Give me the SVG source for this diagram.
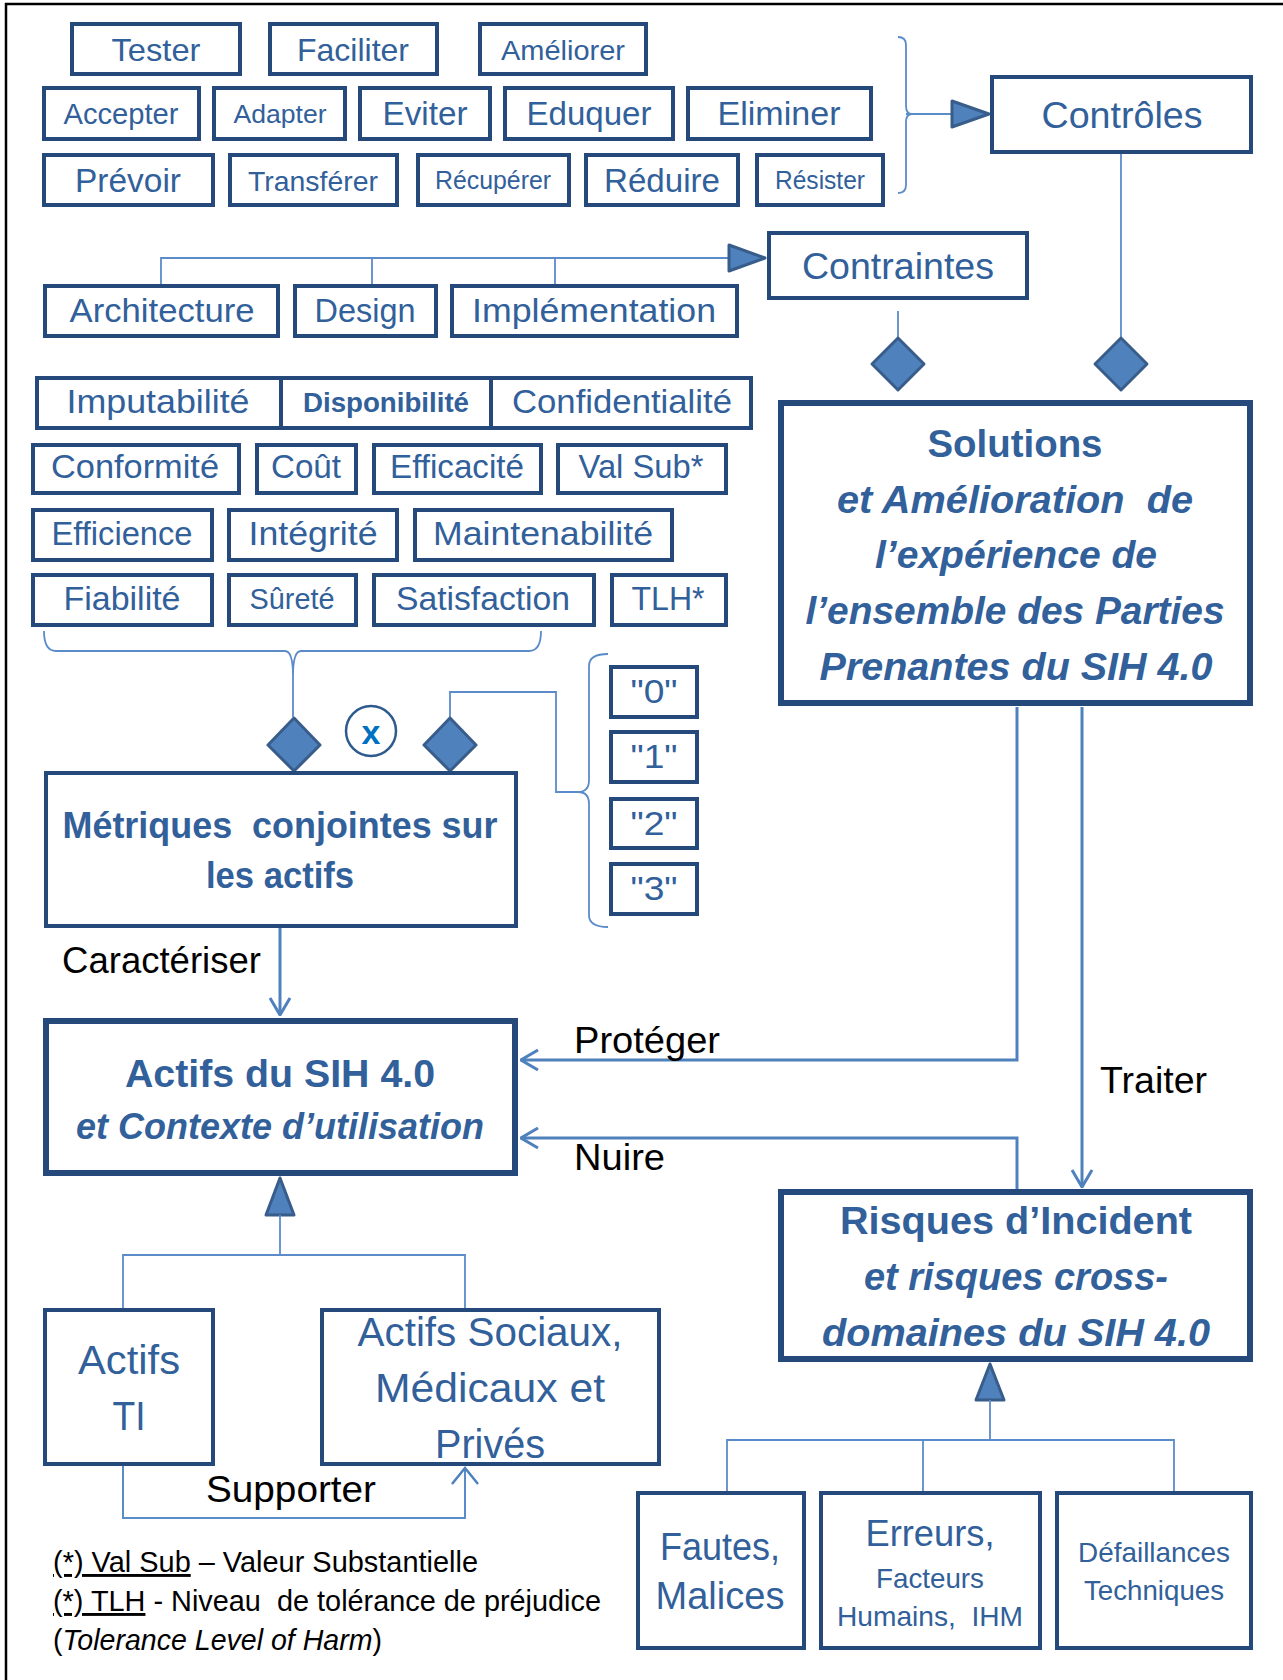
<svg xmlns="http://www.w3.org/2000/svg" width="1283" height="1680" viewBox="0 0 1283 1680">
<defs>
<style>
.b{fill:#fff;stroke:#24497a;stroke-width:4}
.bt{fill:#fff;stroke:#24497a;stroke-width:6}
.t{font-family:'Liberation Sans',Arial,sans-serif;fill:#31609a;text-anchor:middle}
.tb{font-weight:bold}
.ti{font-style:italic}
.k{font-family:'Liberation Sans',Arial,sans-serif;fill:#000}
.ln{fill:none;stroke:#5b8bc9;stroke-width:1.8}
.la{fill:none;stroke:#4f81bd;stroke-width:3}
.dm{fill:#4f81bd;stroke:#385d8a;stroke-width:3;stroke-linejoin:round}
</style>
<marker id="oa" viewBox="0 0 20 24" refX="19" refY="12" markerWidth="20" markerHeight="24" markerUnits="userSpaceOnUse" orient="auto">
<path d="M2,2 L19,12 L2,22" fill="none" stroke="#4f81bd" stroke-width="3"/>
</marker>
</defs>
<rect width="1283" height="1680" fill="#fff"/>
<path d="M6,1680 V4 H1283" fill="none" stroke="#000" stroke-width="2.5"/>

<g id="connectors">
<path class="ln" d="M898,37 Q906,37 906,45 V106 Q906,114 912,114 Q906,114 906,122 V185 Q906,193 898,193"/>
<path class="ln" d="M906,114 H952"/>
<polygon class="dm" points="952,101 989,114 952,127"/>
<path class="ln" d="M161,284 V258 H729 M372,284 V258 M555,284 V258"/>
<polygon class="dm" points="729,245 765,258 729,271"/>
<path class="ln" d="M898,311 V337"/>
<path class="ln" d="M1121,154 V337"/>
<polygon class="dm" points="898,338 924,364 898,390 872,364"/>
<polygon class="dm" points="1121,338 1147,364 1121,390 1095,364"/>
<path class="ln" d="M44,631 Q44,651 56,651 H285 Q293,651 293,676 Q293,651 301,651 H529 Q541,651 541,631"/>
<path class="ln" d="M293,676 V717"/>
<path class="ln" d="M608,654 Q589,654 589,666 V780 Q589,792 578,792 Q589,792 589,804 V915 Q589,927 608,927"/>
<path class="ln" d="M450,717 V692 H556 V792 H578"/>
<polygon class="dm" points="294,718 320,745 294,771 268,745"/>
<polygon class="dm" points="450,718 476,745 450,771 424,745"/>
<circle cx="371" cy="731" r="25" fill="#fff" stroke="#2e5a8e" stroke-width="2.5"/>
<text x="371" y="744" font-family="'Liberation Sans',Arial,sans-serif" font-weight="bold" font-size="34" fill="#0070c0" text-anchor="middle">x</text>
<path class="la" d="M280,928 V1015" marker-end="url(#oa)"/>
<path class="la" d="M1017,707 V1060 H521" marker-end="url(#oa)"/>
<path class="la" d="M1017,1190 V1138 H521" marker-end="url(#oa)"/>
<path class="la" d="M1082,707 V1187" marker-end="url(#oa)"/>
<polygon class="dm" points="280,1178 294,1215 266,1215"/>
<path class="ln" d="M280,1215 V1255 M123,1308 V1255 H465 V1308"/>
<path class="ln" d="M123,1466 V1518 H465 V1470" style="stroke-width:2"/>
<path d="M452,1484 L465,1468 L478,1484" fill="none" stroke="#4f81bd" stroke-width="2.5"/>
<polygon class="dm" points="990,1364 1004,1400 976,1400"/>
<path class="ln" d="M990,1400 V1440 M727,1491 V1440 H1174 V1491 M923,1440 V1491"/>
</g>

<g id="n-tester"><rect class="b" x="72" y="24" width="168" height="50"/><text class="t" x="156" y="61" font-size="32" textLength="89" lengthAdjust="spacingAndGlyphs">Tester</text></g>
<g id="n-faciliter"><rect class="b" x="270" y="24" width="167" height="50"/><text class="t" x="353" y="61" font-size="32" textLength="112" lengthAdjust="spacingAndGlyphs">Faciliter</text></g>
<g id="n-ameliorer"><rect class="b" x="480" y="24" width="166" height="50"/><text class="t" x="563" y="60" font-size="28" textLength="124" lengthAdjust="spacingAndGlyphs">Améliorer</text></g>

<g id="n-accepter"><rect class="b" x="44" y="88" width="155" height="51"/><text class="t" x="121" y="124" font-size="29" textLength="115" lengthAdjust="spacingAndGlyphs">Accepter</text></g>
<g id="n-adapter"><rect class="b" x="214" y="88" width="131" height="51"/><text class="t" x="280" y="123" font-size="26" textLength="93" lengthAdjust="spacingAndGlyphs">Adapter</text></g>
<g id="n-eviter"><rect class="b" x="360" y="88" width="130" height="51"/><text class="t" x="425" y="125" font-size="33" textLength="85" lengthAdjust="spacingAndGlyphs">Eviter</text></g>
<g id="n-eduquer"><rect class="b" x="505" y="88" width="168" height="51"/><text class="t" x="589" y="125" font-size="33" textLength="125" lengthAdjust="spacingAndGlyphs">Eduquer</text></g>
<g id="n-eliminer"><rect class="b" x="688" y="88" width="183" height="51"/><text class="t" x="779" y="125" font-size="33" textLength="123" lengthAdjust="spacingAndGlyphs">Eliminer</text></g>

<g id="n-prevoir"><rect class="b" x="44" y="155" width="169" height="50"/><text class="t" x="128" y="192" font-size="33" textLength="106" lengthAdjust="spacingAndGlyphs">Prévoir</text></g>
<g id="n-transferer"><rect class="b" x="230" y="155" width="167" height="50"/><text class="t" x="313" y="191" font-size="28" textLength="130" lengthAdjust="spacingAndGlyphs">Transférer</text></g>
<g id="n-recuperer"><rect class="b" x="418" y="155" width="151" height="50"/><text class="t" x="493" y="189" font-size="25" textLength="116" lengthAdjust="spacingAndGlyphs">Récupérer</text></g>
<g id="n-reduire"><rect class="b" x="586" y="155" width="152" height="50"/><text class="t" x="662" y="192" font-size="33" textLength="116" lengthAdjust="spacingAndGlyphs">Réduire</text></g>
<g id="n-resister"><rect class="b" x="757" y="155" width="126" height="50"/><text class="t" x="820" y="189" font-size="25" textLength="90" lengthAdjust="spacingAndGlyphs">Résister</text></g>

<g id="n-controles"><rect class="b" x="992" y="77" width="259" height="75"/><text class="t" x="1122" y="128" font-size="37" textLength="161" lengthAdjust="spacingAndGlyphs">Contrôles</text></g>
<g id="n-contraintes"><rect class="b" x="769" y="233" width="258" height="65"/><text class="t" x="898" y="279" font-size="37" textLength="192" lengthAdjust="spacingAndGlyphs">Contraintes</text></g>

<g id="n-architecture"><rect class="b" x="45" y="286" width="233" height="50"/><text class="t" x="162" y="322" font-size="34" textLength="185" lengthAdjust="spacingAndGlyphs">Architecture</text></g>
<g id="n-design"><rect class="b" x="295" y="286" width="141" height="50"/><text class="t" x="365" y="322" font-size="34" textLength="101" lengthAdjust="spacingAndGlyphs">Design</text></g>
<g id="n-implementation"><rect class="b" x="452" y="286" width="285" height="50"/><text class="t" x="594" y="322" font-size="34" textLength="244" lengthAdjust="spacingAndGlyphs">Implémentation</text></g>

<g id="n-imputabilite"><rect class="b" x="37" y="378" width="244" height="50"/><text class="t" x="158" y="413" font-size="34" textLength="183" lengthAdjust="spacingAndGlyphs">Imputabilité</text></g>
<g id="n-disponibilite"><rect class="b" x="281" y="378" width="210" height="50"/><text class="t tb" x="386" y="412" font-size="28" textLength="166" lengthAdjust="spacingAndGlyphs">Disponibilité</text></g>
<g id="n-confidentialite"><rect class="b" x="491" y="378" width="260" height="50"/><text class="t" x="622" y="413" font-size="34" textLength="220" lengthAdjust="spacingAndGlyphs">Confidentialité</text></g>

<g id="n-conformite"><rect class="b" x="33" y="445" width="206" height="48"/><text class="t" x="135" y="478" font-size="34" textLength="168" lengthAdjust="spacingAndGlyphs">Conformité</text></g>
<g id="n-cout"><rect class="b" x="257" y="445" width="99" height="48"/><text class="t" x="306" y="478" font-size="34" textLength="70" lengthAdjust="spacingAndGlyphs">Coût</text></g>
<g id="n-efficacite"><rect class="b" x="374" y="445" width="167" height="48"/><text class="t" x="457" y="478" font-size="34" textLength="134" lengthAdjust="spacingAndGlyphs">Efficacité</text></g>
<g id="n-valsub"><rect class="b" x="558" y="445" width="168" height="48"/><text class="t" x="641" y="478" font-size="34" textLength="125" lengthAdjust="spacingAndGlyphs">Val Sub*</text></g>

<g id="n-efficience"><rect class="b" x="33" y="510" width="179" height="50"/><text class="t" x="122" y="545" font-size="34" textLength="141" lengthAdjust="spacingAndGlyphs">Efficience</text></g>
<g id="n-integrite"><rect class="b" x="229" y="510" width="168" height="50"/><text class="t" x="313" y="545" font-size="34" textLength="129" lengthAdjust="spacingAndGlyphs">Intégrité</text></g>
<g id="n-maintenabilite"><rect class="b" x="415" y="510" width="257" height="50"/><text class="t" x="543" y="545" font-size="34" textLength="220" lengthAdjust="spacingAndGlyphs">Maintenabilité</text></g>

<g id="n-fiabilite"><rect class="b" x="33" y="575" width="179" height="50"/><text class="t" x="122" y="610" font-size="34" textLength="117" lengthAdjust="spacingAndGlyphs">Fiabilité</text></g>
<g id="n-surete"><rect class="b" x="229" y="575" width="127" height="50"/><text class="t" x="292" y="609" font-size="29" textLength="85" lengthAdjust="spacingAndGlyphs">Sûreté</text></g>
<g id="n-satisfaction"><rect class="b" x="374" y="575" width="220" height="50"/><text class="t" x="483" y="610" font-size="34" textLength="174" lengthAdjust="spacingAndGlyphs">Satisfaction</text></g>
<g id="n-tlh"><rect class="b" x="612" y="575" width="114" height="50"/><text class="t" x="668" y="610" font-size="34" textLength="73" lengthAdjust="spacingAndGlyphs">TLH*</text></g>

<g id="n-v0"><rect class="b" x="611" y="667" width="86" height="50"/><text class="t" x="654" y="703" font-size="34" textLength="47" lengthAdjust="spacingAndGlyphs">"0"</text></g>
<g id="n-v1"><rect class="b" x="611" y="732" width="86" height="50"/><text class="t" x="654" y="768" font-size="34" textLength="47" lengthAdjust="spacingAndGlyphs">"1"</text></g>
<g id="n-v2"><rect class="b" x="611" y="799" width="86" height="49"/><text class="t" x="654" y="835" font-size="34" textLength="47" lengthAdjust="spacingAndGlyphs">"2"</text></g>
<g id="n-v3"><rect class="b" x="611" y="864" width="86" height="50"/><text class="t" x="654" y="900" font-size="34" textLength="47" lengthAdjust="spacingAndGlyphs">"3"</text></g>

<g id="n-metriques"><rect class="b" x="46" y="773" width="470" height="153"/>
<text class="t tb" x="280" y="838" font-size="36" textLength="435" lengthAdjust="spacingAndGlyphs" xml:space="preserve">Métriques  conjointes sur</text>
<text class="t tb" x="280" y="888" font-size="36" textLength="148" lengthAdjust="spacingAndGlyphs">les actifs</text></g>

<g id="n-solutions"><rect class="bt" x="781" y="403" width="469" height="300"/>
<text class="t tb" x="1015" y="457" font-size="38" textLength="175" lengthAdjust="spacingAndGlyphs">Solutions</text>
<text class="t tb ti" x="1015" y="513" font-size="38" textLength="356" lengthAdjust="spacingAndGlyphs" xml:space="preserve">et Amélioration  de</text>
<text class="t tb ti" x="1016" y="568" font-size="38" textLength="282" lengthAdjust="spacingAndGlyphs">l’expérience de</text>
<text class="t tb ti" x="1015" y="624" font-size="38" textLength="419" lengthAdjust="spacingAndGlyphs">l’ensemble des Parties</text>
<text class="t tb ti" x="1016" y="680" font-size="38" textLength="393" lengthAdjust="spacingAndGlyphs">Prenantes du SIH 4.0</text></g>

<g id="n-actifs"><rect class="bt" x="46" y="1021" width="469" height="152"/>
<text class="t tb" x="280" y="1087" font-size="39" textLength="310" lengthAdjust="spacingAndGlyphs">Actifs du SIH 4.0</text>
<text class="t tb ti" x="280" y="1139" font-size="37" textLength="408" lengthAdjust="spacingAndGlyphs">et Contexte d’utilisation</text></g>

<g id="n-risques"><rect class="bt" x="781" y="1192" width="469" height="167"/>
<text class="t tb" x="1016" y="1234" font-size="39" textLength="352" lengthAdjust="spacingAndGlyphs">Risques d’Incident</text>
<text class="t tb ti" x="1016" y="1290" font-size="39" textLength="304" lengthAdjust="spacingAndGlyphs">et risques cross-</text>
<text class="t tb ti" x="1016" y="1346" font-size="39" textLength="388" lengthAdjust="spacingAndGlyphs">domaines du SIH 4.0</text></g>

<g id="n-actifs-ti"><rect class="b" x="45" y="1310" width="168" height="154"/>
<text class="t" x="129" y="1374" font-size="40" textLength="102" lengthAdjust="spacingAndGlyphs">Actifs</text>
<text class="t" x="129" y="1430" font-size="40" textLength="33" lengthAdjust="spacingAndGlyphs">TI</text></g>

<g id="n-actifs-sociaux"><rect class="b" x="322" y="1310" width="337" height="154"/>
<text class="t" x="490" y="1346" font-size="40" textLength="265" lengthAdjust="spacingAndGlyphs">Actifs Sociaux,</text>
<text class="t" x="490" y="1402" font-size="40" textLength="230" lengthAdjust="spacingAndGlyphs">Médicaux et</text>
<text class="t" x="490" y="1458" font-size="40" textLength="110" lengthAdjust="spacingAndGlyphs">Privés</text></g>

<g id="n-fautes"><rect class="b" x="638" y="1493" width="166" height="155"/>
<text class="t" x="720" y="1560" font-size="38" textLength="120" lengthAdjust="spacingAndGlyphs">Fautes,</text>
<text class="t" x="720" y="1609" font-size="38" textLength="129" lengthAdjust="spacingAndGlyphs">Malices</text></g>

<g id="n-erreurs"><rect class="b" x="821" y="1493" width="219" height="155"/>
<text class="t" x="930" y="1546" font-size="36" textLength="129" lengthAdjust="spacingAndGlyphs">Erreurs,</text>
<text class="t" x="930" y="1588" font-size="28" textLength="108" lengthAdjust="spacingAndGlyphs">Facteurs</text>
<text class="t" x="930" y="1626" font-size="28" textLength="186" lengthAdjust="spacingAndGlyphs" xml:space="preserve">Humains,  IHM</text></g>

<g id="n-defaillances"><rect class="b" x="1057" y="1493" width="194" height="155"/>
<text class="t" x="1154" y="1562" font-size="28" textLength="152" lengthAdjust="spacingAndGlyphs">Défaillances</text>
<text class="t" x="1154" y="1600" font-size="28" textLength="140" lengthAdjust="spacingAndGlyphs">Techniques</text></g>

<g id="labels">
<text class="k" x="62" y="973" font-size="36" textLength="199" lengthAdjust="spacingAndGlyphs">Caractériser</text>
<text class="k" x="574" y="1053" font-size="36" textLength="146" lengthAdjust="spacingAndGlyphs">Protéger</text>
<text class="k" x="574" y="1170" font-size="36" textLength="91" lengthAdjust="spacingAndGlyphs">Nuire</text>
<text class="k" x="1100" y="1093" font-size="36" textLength="107" lengthAdjust="spacingAndGlyphs">Traiter</text>
<text class="k" x="206" y="1502" font-size="36" textLength="170" lengthAdjust="spacingAndGlyphs">Supporter</text>
</g>

<g id="legend">
<text class="k" x="53" y="1572" font-size="29" textLength="425" lengthAdjust="spacingAndGlyphs"><tspan text-decoration="underline">(*) Val Sub</tspan> – Valeur Substantielle</text>
<text class="k" x="53" y="1611" font-size="29" textLength="548" lengthAdjust="spacingAndGlyphs" xml:space="preserve"><tspan text-decoration="underline">(*) TLH</tspan> - Niveau  de tolérance de préjudice</text>
<text class="k" x="53" y="1650" font-size="29" textLength="329" lengthAdjust="spacingAndGlyphs">(<tspan font-style="italic">Tolerance Level of Harm</tspan>)</text>
</g>
</svg>
